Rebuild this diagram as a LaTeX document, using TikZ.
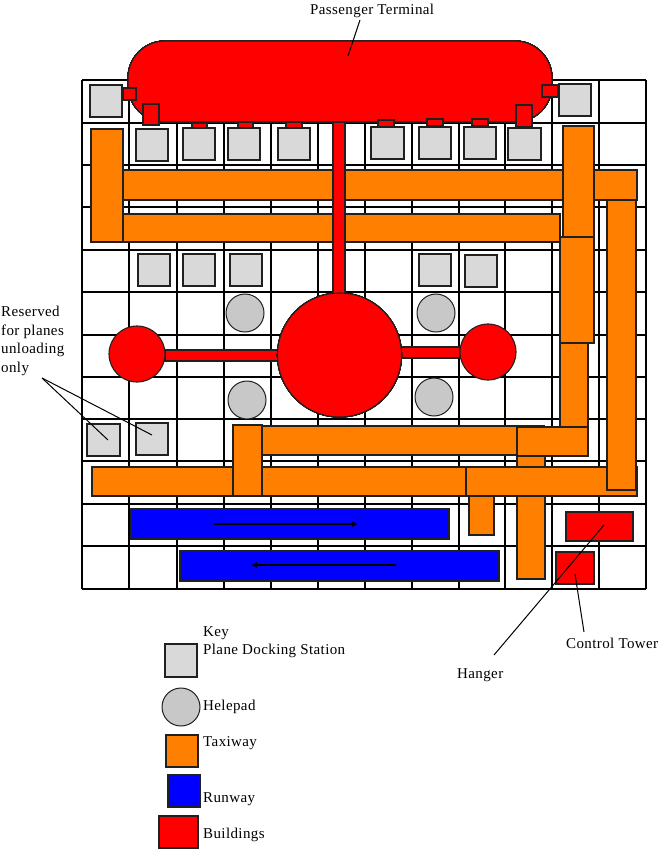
\documentclass[tikz,border=0pt]{standalone}
\usepackage{fontspec}
\setmainfont{Liberation Serif}[LetterSpace=2.6]
\usetikzlibrary{arrows.meta}
\definecolor{orng}{HTML}{FF8000}
\definecolor{dock}{HTML}{D9D9D9}
\definecolor{heli}{HTML}{C8C8C8}
\definecolor{edgeA}{HTML}{202020}
\tikzset{
  gridline/.style={draw=black,line width=1.25pt},
  dockbox/.style={draw=edgeA,fill=dock,line width=1.2pt},
  helipad/.style={draw=edgeA,fill=heli,line width=1pt},
  taxi/.style={draw=edgeA,fill=orng,line width=1.1pt},
  runway/.style={draw=edgeA,fill=blue,line width=1.1pt},
  building/.style={draw=edgeA,fill=red,line width=1.1pt},
  leader/.style={draw=black,line width=1pt},
  flow/.style={draw=black,line width=1.1pt,-{Latex[length=6pt,width=6pt]}},
  lbl/.style={inner sep=0pt,anchor=base west,font=\fontsize{15}{18.5}\selectfont},
}
\newcommand{\bx}[5]{\path[#1] (#2,#3) rectangle (#4,#5);}
\begin{document}
\begin{tikzpicture}[x=1pt,y=-1pt]
\useasboundingbox (0,0) rectangle (666,850);
\fill[white] (0,0) rectangle (666,850);
% grid
\foreach \x in {82,129,177,224,271,318,365,412,459,505,552,599,646}
  \draw[gridline] (\x,80) -- (\x,589);
\foreach \y in {80,123,165,207,250,292,335,377,419,461,504,546,589}
  \draw[gridline] (82,\y) -- (646,\y);
% docking stations
\foreach \a/\b/\c/\d in {
  90/85/122/117, 559/84/591/116,
  136/129/168/161, 183/128/215/160, 228/128/260/160, 278/128/310/160,
  371/127/404/159, 419/127/451/159, 464/127/496/159, 508/128/541/160,
  138/254/170/286, 183/254/215/286, 230/254/262/286, 419/254/451/286, 465/255/497/287,
  87/424/120/456, 136/423/168/455}
  \bx{dockbox}{\a}{\b}{\c}{\d}
% terminal
\path[building,rounded corners=37pt] (128,41) rectangle (552,122);
\bx{building}{165}{350}{278}{361}
\bx{building}{401}{347}{460}{358}
\path[building] (137,354) circle[radius=28];
\path[building] (488,352) circle[radius=28];
% helipads
\foreach \cx/\cy in {245/313,436/313,247/400,434/397}
  \path[helipad] (\cx,\cy) circle[radius=19];
% gate stubs
\foreach \a/\b/\c/\d in {
  123/88/136/100, 143/104/159/125, 192/123/207/128, 238/122/253/128, 286/122/302/128,
  378/120/394/127, 427/119/443/126, 472/119/488/126, 516/105/532/127, 542/85/558/97}
  \bx{building}{\a}{\b}{\c}{\d}
% taxiways
\bx{taxi}{123}{170}{637}{200}
\bx{taxi}{123}{214}{560}{242}
\bx{taxi}{91}{129}{123}{242}
\bx{building}{333}{122}{345}{296}
\path[building] (339.5,355) circle[radius=62];
\bx{taxi}{560}{343}{588}{428}
\bx{taxi}{560}{237}{594}{343}
\bx{taxi}{563}{126}{594}{237}
\bx{taxi}{517}{456}{545}{579}
\bx{taxi}{262}{426}{544}{455}
\bx{taxi}{517}{427}{588}{456}
\bx{taxi}{92}{467}{466}{496}
\bx{taxi}{233}{425}{262}{496}
\bx{taxi}{469}{496}{494}{535}
\bx{taxi}{466}{467}{637}{496}
\bx{taxi}{607}{200}{636}{490}
% runways
\bx{runway}{131}{509}{449}{539}
\bx{runway}{180}{551}{499}{581}
\coordinate (r1a) at (214,524); \coordinate (r1b) at (358,524);
\coordinate (r2a) at (396,565); \coordinate (r2b) at (251,565);
\draw[flow] (r1a) -- (r1b);
\draw[flow] (r2a) -- (r2b);
% buildings
\bx{building}{566}{512}{633}{541}
\bx{building}{556}{552}{594}{584}
% labels
\node[lbl] (term) at (310,15) {Passenger Terminal};
\node[lbl,align=left,anchor=north west] (res) at (1,306) {Reserved\\for planes\\unloading\\only};
\node[lbl] (tower) at (566,648) {Control Tower};
\node[lbl] (hanger) at (457,678) {Hanger};
\coordinate (termEnd) at (348,56); \coordinate (termStart) at (360,20);
\coordinate (resOrg) at (42,378); \coordinate (resA) at (108,440); \coordinate (resB) at (152,435);
\coordinate (hangEnd) at (604,525); \coordinate (hangStart) at (494,655);
\coordinate (towEnd) at (575,574); \coordinate (towStart) at (584,632);
\draw[leader] (termStart) -- (termEnd);
\draw[leader] (resOrg) -- (resA);
\draw[leader] (resOrg) -- (resB);
\draw[leader] (hangStart) -- (hangEnd);
\draw[leader] (towStart) -- (towEnd);
% key
\node[lbl] (key) at (203,636) {Key};
\node[lbl] (kdock) at (203,654) {Plane Docking Station};
\node[lbl] (kheli) at (203,710) {Helepad};
\node[lbl] (ktaxi) at (203,746) {Taxiway};
\node[lbl] (krun) at (203,802) {Runway};
\node[lbl] (kbld) at (203,838) {Buildings};
\bx{dockbox}{165}{644}{197}{677}
\path[helipad] (181,707) circle[radius=19];
\bx{taxi}{166}{735}{198}{767}
\bx{runway}{168}{775}{200}{807}
\bx{building}{159}{816}{198}{848}
\end{tikzpicture}
\end{document}
